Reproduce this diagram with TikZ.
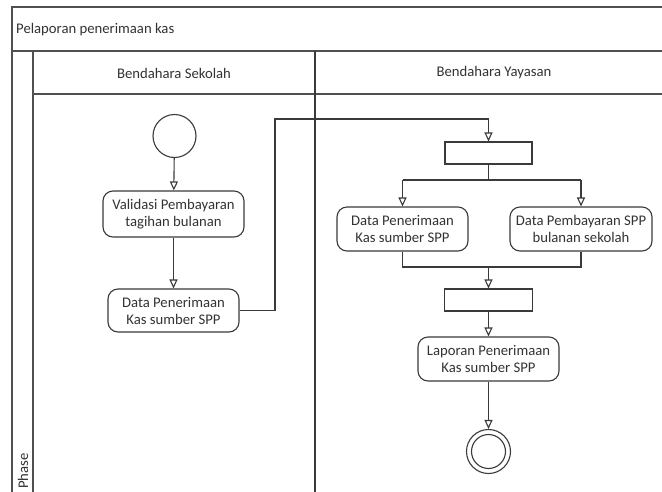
\documentclass[tikz,border=0pt]{standalone}
\usepackage{fontspec}
\setmainfont{Carlito}
\usetikzlibrary{arrows.meta}
\definecolor{ln}{HTML}{3A3A3A}
\definecolor{fr}{HTML}{505050}
\definecolor{tx}{HTML}{333333}
\tikzset{
  actbox/.style={draw=ln, line width=1.1pt, rounded corners=10pt, align=center, inner sep=0pt, text=tx, font=\fontsize{14.7}{17}\selectfont},
  barbox/.style={draw=ln, line width=1.1pt, inner sep=0pt},
  flow/.style={draw=ln, line width=1.1pt, -{Triangle[open, length=9pt, width=8pt]}},
  seg/.style={draw=ln, line width=1.1pt},
  frame/.style={draw=fr, line width=1.3pt},
  lbl/.style={text=tx, font=\fontsize{14.7}{17}\selectfont, inner sep=0pt}
}
\begin{document}
\begin{tikzpicture}[x=1pt,y=-1pt]
\useasboundingbox (0,0) rectangle (662,491);
\clip (0,0) rectangle (662,491);
\fill[white] (0,0) rectangle (662,491);
% frame
\draw[frame] (12,510) -- (12,7) -- (680,7);
\draw[frame] (12,51) -- (680,51);
\draw[frame] (33,94) -- (680,94);
\draw[frame] (33,51) -- (33,510);
\draw[draw=ln, line width=1.4pt] (315,51) -- (315,510);
% labels
\node[lbl, anchor=west] (title) at (16,30) {Pelaporan penerimaan kas};
\node[lbl] (lane1) at (174,73) {Bendahara Sekolah};
\node[lbl] (lane2) at (494,73) {Bendahara Yayasan};
\node[lbl, rotate=90, anchor=west] (phase) at (23,489) {Phase};
% nodes
\node[circle, draw=ln, line width=1.1pt, minimum size=43pt, inner sep=0pt] (start) at (174.5,136) {};
\node[actbox, minimum width=141pt, minimum height=46pt] (val) at (173.5,214) {Validasi Pembayaran\\tagihan bulanan};
\node[actbox, minimum width=131pt, minimum height=43pt] (dp1) at (173.5,310.5) {Data Penerimaan\\Kas sumber SPP};
\node[barbox, minimum width=87pt, minimum height=22pt] (bar1) at (488.5,153) {};
\node[actbox, minimum width=131pt, minimum height=44pt] (dp2) at (402.5,229) {Data Penerimaan\\Kas sumber SPP};
\node[actbox, minimum width=142pt, minimum height=44pt] (dpb) at (581,229) {Data Pembayaran SPP\\bulanan sekolah};
\node[barbox, minimum width=88pt, minimum height=22pt] (bar2) at (488.5,300) {};
\node[actbox, minimum width=141pt, minimum height=44pt] (lap) at (488.5,359) {Laporan Penerimaan\\Kas sumber SPP};
\node[circle, draw=ln, line width=1.1pt, minimum size=44pt, inner sep=0pt] (end) at (488.5,451.5) {};
\node[circle, draw=ln, line width=1.1pt, minimum size=34pt, inner sep=0pt] (endin) at (488.5,451.5) {};
% coordinates
\coordinate (c1) at (275,310.5);
\coordinate (c2) at (275,119);
\coordinate (c3) at (488.5,119);
\coordinate (fk) at (488.5,180);
\coordinate (fl) at (402.5,180);
\coordinate (fr) at (581,180);
\coordinate (jn) at (488.5,267);
\coordinate (jl) at (402.5,267);
\coordinate (jr) at (581,267);
% connectors
\draw[flow] (start) -- (val);
\draw[flow] (val) -- (dp1);
\draw[flow] (dp1.east) -- (c1) -- (c2) -- (c3) -- (bar1.north);
\draw[seg] (bar1.south) -- (fk);
\draw[seg] (fl) -- (fr);
\draw[flow] (fl) -- (dp2.north);
\draw[flow] (fr) -- (dpb.north);
\draw[seg] (dp2.south) -- (jl) -- (jr) -- (dpb.south);
\draw[flow] (jn) -- (bar2.north);
\draw[flow] (bar2) -- (lap);
\draw[flow] (lap) -- (end);
\end{tikzpicture}
\end{document}
